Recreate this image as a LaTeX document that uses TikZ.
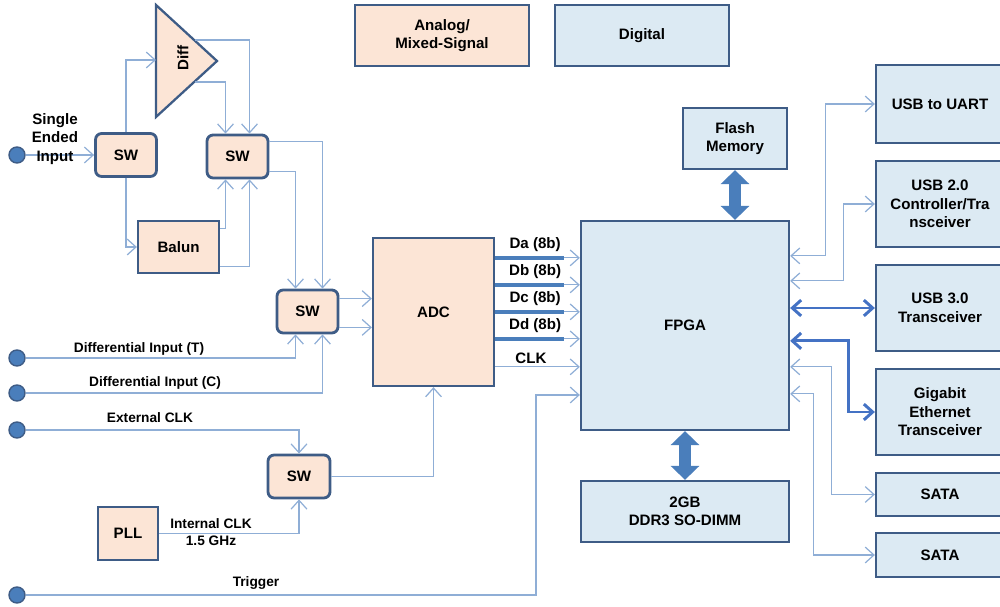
\documentclass[tikz,border=0pt]{standalone}
\usepackage{fontspec}
\setmainfont{Liberation Sans}
\usetikzlibrary{calc,arrows.meta}
\definecolor{ams}{RGB}{252,229,214}
\definecolor{dig}{RGB}{220,234,243}
\definecolor{edge}{RGB}{62,92,134}
\definecolor{wirec}{RGB}{143,174,214}
\definecolor{linkc}{RGB}{68,114,196}
\definecolor{busc}{RGB}{74,126,187}
\begin{document}
\begin{tikzpicture}[x=0.02cm,y=-0.02cm,
  font=\fontsize{8.6}{10.5}\selectfont\bfseries,
  blk/.style={draw=edge,line width=1.3pt,inner sep=0pt,align=center},
  ablk/.style={blk,fill=ams},
  dblk/.style={blk,fill=dig},
  swbox/.style={ablk,rounded corners=3.5pt,line width=1.6pt,minimum width=1.22cm,minimum height=0.86cm},
  port/.style={circle,fill=busc,draw=edge,line width=0.8pt,inner sep=0pt,minimum size=0.32cm},
  wire/.style={draw=wirec,line width=0.7pt,-{Straight Barb[length=5pt,width=9pt]}},
  wire2/.style={wire,{Straight Barb[length=5pt,width=9pt]}-{Straight Barb[length=5pt,width=9pt]}},
  link/.style={draw=linkc,line width=1.7pt,{Straight Barb[length=5pt,width=9pt]}-{Straight Barb[length=5pt,width=9pt]}},
  bus/.style={draw=busc,line width=2.4pt},
  fat/.style={draw=busc,line width=7pt,{Triangle[length=8pt,width=16pt]}-{Triangle[length=8pt,width=16pt]}},
  lbl/.style={font=\fontsize{7.8}{9.5}\selectfont\bfseries,inner sep=1pt}]
\clip(0,0)rectangle(1000,607);
% legend
\node[ablk,minimum width=3.48cm,minimum height=1.22cm](key1)at(442,35.5){Analog/\\Mixed-Signal};
\node[dblk,minimum width=3.48cm,minimum height=1.22cm](key2)at(642,35.5){Digital};
% analog front end
\draw[draw=edge,line width=1.3pt,fill=ams](156,5)--(217,61)--(156,117)--cycle;
\node[rotate=90](diff)at(183,58){Diff};
\coordinate(diffin)at(156,60);
\coordinate(diffp)at(195,40);
\coordinate(diffn)at(195,82);
\node[swbox](sw1)at(126,155){SW};
\node[swbox](sw2)at(237.5,156.5){SW};
\node[ablk,minimum width=1.62cm,minimum height=1.04cm](balun)at(178.5,247){Balun};
\node[swbox](sw3)at(307.5,311.5){SW};
\node[ablk,minimum width=2.42cm,minimum height=2.96cm](adc)at(433.5,312){ADC};
\node[swbox,minimum width=1.24cm](sw4)at(299,476.5){SW};
\node[ablk,minimum width=1.2cm,minimum height=1.06cm](pll)at(128,533.5){PLL};
% digital side
\node[dblk,minimum width=4.16cm,minimum height=4.18cm](fpga)at(685,325.5){FPGA};
\node[dblk,minimum width=2.08cm,minimum height=1.22cm](flash)at(735,138.5){Flash\\Memory};
\node[dblk,minimum width=4.16cm,minimum height=1.22cm](ddr)at(685,511.5){2GB\\DDR3 SO-DIMM};
\node[dblk,minimum width=2.56cm,minimum height=1.56cm](uart)at(940,104){USB to UART};
\node[dblk,minimum width=2.56cm,minimum height=1.72cm](usb2)at(940,204){USB 2.0\\Controller/Tra\\nsceiver};
\node[dblk,minimum width=2.56cm,minimum height=1.72cm](usb3)at(940,308){USB 3.0\\Transceiver};
\node[dblk,minimum width=2.56cm,minimum height=1.72cm](gbe)at(940,412){Gigabit\\Ethernet\\Transceiver};
\node[dblk,minimum width=2.56cm,minimum height=0.86cm](sata1)at(940,494.5){SATA};
\node[dblk,minimum width=2.56cm,minimum height=0.88cm](sata2)at(940,555){SATA};
% inputs
\node[port](pse)at(17,155){};
\node[port](pdt)at(17,358){};
\node[port](pdc)at(17,393){};
\node[port](pck)at(17,430){};
\node[port](ptr)at(17,595){};
% front end wiring
\draw[wire](pse)--(sw1);
\draw[wire](sw1.north)|-(diffin);
\draw[wire](sw1.south)|-(balun.west);
\draw[wire](diffp)-|($(sw2.north)+(12,0)$);
\draw[wire](diffn)-|($(sw2.north)+(-12,0)$);
\draw[wire]($(balun.north east)+(0,9)$)-|($(sw2.south)+(-12,0)$);
\draw[wire]($(balun.south east)+(0,-8)$)-|($(sw2.south)+(12,0)$);
\draw[wire]($(sw2.north east)+(0,8)$)-|($(sw3.north)+(15,0)$);
\draw[wire]($(sw2.south east)+(0,-8)$)-|($(sw3.north)+(-12,0)$);
\draw[wire](pdt)-|($(sw3.south)+(-12,0)$);
\draw[wire](pdc)-|($(sw3.south)+(15,0)$);
\draw[wire]($(sw3.north east)+(0,10)$)coordinate(s3a)--(s3a-|adc.west);
\draw[wire]($(sw3.south east)+(0,-7)$)coordinate(s3b)--(s3b-|adc.west);
\draw[wire](pck)-|(sw4.north);
\draw[wire](pll.east)-|(sw4.south);
\draw[wire](sw4.east)-|(adc.south);
\node[align=center](lse)at(55,139){Single\\Ended\\Input};
\node[lbl](ldt)at(139,349){Differential Input (T)};
\node[lbl](ldc)at(155,383){Differential Input (C)};
\node[lbl](lck)at(150,418){External CLK};
\node[lbl,align=center](lint)at(211,532){Internal CLK\\1.5 GHz};
\node[lbl](ltr)at(256,583){Trigger};
% adc to fpga
\foreach \n/\dy in {a/21,b/48,c/75,d/102}{
  \draw[wire]($(adc.north east)+(0,\dy)$)coordinate(d\n)--(d\n-|fpga.west);
  \draw[bus](d\n)--++(69,0);
  \node(l\n)at($(d\n)+(40,-13)$){D\n\ (8b)};
}
\draw[wire]($(adc.north east)+(0,130)$)coordinate(dclk)--(dclk-|fpga.west);
\node(lclk)at(531,358){CLK};
\draw[wire](ptr)-|($(fpga.west)+(-44,69.5)$)--($(fpga.west)+(0,69.5)$);
% memories
\draw[fat](flash.south)--(flash.south|-fpga.north);
\draw[fat](fpga.south)--(ddr.north);
% peripherals
\draw[wire2](uart.west)-|($(fpga.north east)+(35,36)$)--($(fpga.north east)+(0,36)$);
\draw[wire2](usb2.west)-|($(fpga.north east)+(53,61)$)--($(fpga.north east)+(0,61)$);
\draw[link](fpga.east|-usb3.west)--(usb3.west);
\draw[link]($(fpga.north east)+(0,121)$)-|($(gbe.west)+(-26,0)$)--(gbe.west);
\draw[wire2]($(fpga.north east)+(0,147)$)-|($(sata1.west)+(-43,0)$)--(sata1.west);
\draw[wire2]($(fpga.north east)+(0,174)$)-|($(sata2.west)+(-61,0)$)--(sata2.west);
\end{tikzpicture}
\end{document}
